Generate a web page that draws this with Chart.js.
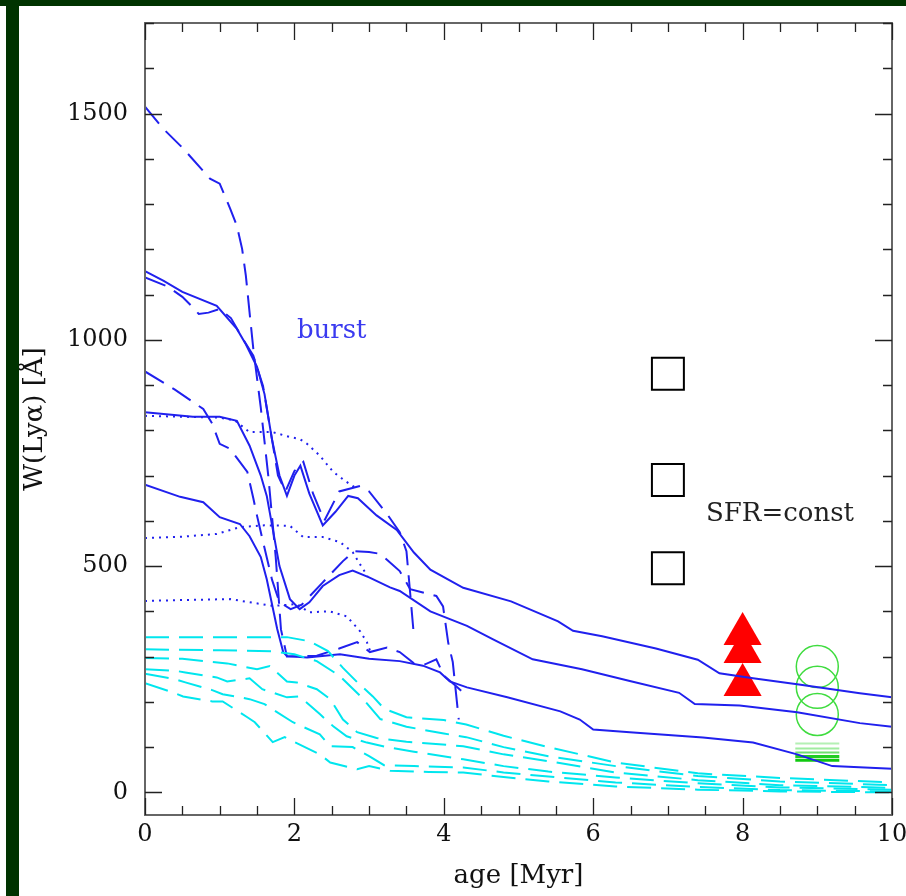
<!DOCTYPE html>
<html>
<head>
<meta charset="utf-8">
<script src="https://cdn.jsdelivr.net/npm/chart.js@4.4.1/dist/chart.umd.min.js"></script>
<style>
  html, body { margin: 0; padding: 0; background: #fff; }
  #wrap { position: relative; width: 906px; height: 896px; overflow: hidden; }
  .band { position: absolute; background: #003300; }
  #top { left: 0; top: 0; width: 906px; height: 6px; }
  #left { left: 6px; top: 0; width: 13px; height: 896px; }
  canvas { position: absolute; left: 0; top: 0; }
</style>
</head>
<body>
<div id="wrap">
  <canvas id="chart" width="906" height="896"></canvas>
  <div class="band" id="top"></div>
  <div class="band" id="left"></div>
</div>
<script>
// burst models, [age (Myr), W(Lya) (A)]
const solidA = [[0,1152],[0.25,1130],[0.5,1106],[0.96,1075],[1.23,1024],[1.35,990],[1.5,940],[1.6,880],[1.7,780],[1.8,700],[1.9,655],[2.0,700],[2.08,722],[2.2,660],[2.38,590],[2.55,620],[2.72,655],[2.85,650],[3.1,612],[3.37,580],[3.6,530],[3.82,492],[4.26,452],[4.9,422],[5.53,378],[5.73,357],[6.12,345],[6.84,318],[7.4,293],[7.69,263],[8.14,252],[8.73,239],[9.57,219],[10,210]];
const solidB = [[0,840],[0.64,830],[1.0,830],[1.23,821],[1.4,766],[1.55,700],[1.63,655],[1.8,500],[1.94,427],[2.07,405],[2.2,420],[2.38,456],[2.6,480],[2.78,490],[3.0,475],[3.28,453],[3.41,445],[3.82,400],[4.31,368],[4.66,338],[5.19,294],[5.85,272],[6.49,246],[7.15,220],[7.36,195],[7.96,192],[8.73,177],[9.57,153],[10,145]];
const solidC = [[0,680],[0.47,653],[0.78,641],[1.0,608],[1.27,593],[1.4,566],[1.55,520],[1.63,471],[1.77,361],[1.85,310],[1.9,301],[2.17,298],[2.61,305],[3.0,295],[3.41,290],[3.72,280],[3.95,265],[4.08,245],[4.31,232],[4.85,210],[5.56,179],[5.82,161],[6.0,139],[6.49,133],[7.47,121],[8.14,110],[8.73,84],[9.2,58],[10,52]];

const dashD1 = [[0,1515],[0.24,1467],[0.51,1423],[0.87,1356],[1.0,1345],[1.14,1290],[1.23,1252],[1.3,1201],[1.35,1142],[1.4,1060],[1.45,980],[1.55,850],[1.65,700],[1.75,520],[1.82,360],[1.9,300],[2.3,302],[2.6,318],[2.84,332],[3.01,310],[3.24,320],[3.41,310],[3.6,285],[3.75,283],[3.9,294],[4.0,258],[4.17,234],[4.25,222]];
const dashD2 = [[0,930],[0.4,890],[0.78,847],[0.9,815],[1.0,770],[1.14,759],[1.37,708],[1.45,650],[1.5,611],[1.6,540],[1.7,470],[1.8,420],[1.95,405],[2.1,415],[2.38,464],[2.65,511],[2.8,533],[3.0,531],[3.15,527],[3.41,489],[3.55,449],[3.9,434],[3.99,411],[4.06,330],[4.12,288],[4.2,161]];
const dashD3 = [[0,1138],[0.3,1118],[0.5,1095],[0.62,1075],[0.72,1057],[0.85,1060],[1.0,1068],[1.15,1048],[1.3,1005],[1.45,965],[1.58,898],[1.68,800],[1.78,700],[1.88,665],[2.0,710],[2.12,730],[2.25,660],[2.4,600],[2.6,665],[2.88,677],[3.0,665],[3.24,615],[3.41,575],[3.5,533],[3.55,440],[3.6,345]];

const dotP1 = [[0,832],[0.5,830],[1.0,828],[1.2,822],[1.4,796],[1.71,796],[1.94,785],[2.07,781],[2.17,770],[2.34,744],[2.52,708],[2.68,688],[2.8,675]];
const dotP2 = [[0,562],[0.5,565],[0.96,571],[1.27,586],[1.6,590],[1.94,589],[2.12,564],[2.38,564],[2.61,553],[2.78,531],[2.92,493],[2.98,478]];
const dotP3 = [[0,423],[0.5,425],[1.14,427],[1.71,412],[2.03,416],[2.2,398],[2.47,400],[2.7,389],[2.88,356],[2.97,332],[3.03,305]];

// higher metallicity bursts
const cyan1 = [[0,343],[1.0,343],[1.9,343],[2.2,334],[2.45,312],[2.65,275],[2.85,242],[3.05,212],[3.2,185],[3.5,166],[4.0,160],[4.3,150],[4.8,125],[5.4,100],[6.3,66],[7.4,42],[8.5,32],[10,22]];
const cyan2 = [[0,316],[1.0,314],[1.7,312],[2.0,305],[2.3,290],[2.6,258],[2.9,210],[3.15,162],[3.5,145],[4.0,130],[4.3,122],[4.8,100],[5.4,80],[6.3,58],[7.4,36],[8.5,24],[10,16]];
const cyan3 = [[0,297],[0.5,295],[1.1,285],[1.5,272],[1.67,279],[1.9,245],[2.03,243],[2.3,228],[2.48,206],[2.65,161],[2.84,133],[3.1,120],[3.5,112],[4.26,102],[4.8,84],[5.4,69],[6.3,44],[7.4,27],[8.5,16],[10,10]];
const cyan4 = [[0,272],[0.43,268],[0.54,265],[0.96,254],[1.1,245],[1.4,252],[1.57,228],[1.9,210],[2.07,212],[2.34,173],[2.52,146],[2.7,124],[2.97,110],[3.24,100],[3.6,90],[4.26,73],[4.8,58],[5.4,46],[6.3,33],[7.4,20],[8.5,11],[10,6]];
const cyan5 = [[0,262],[0.4,250],[0.54,243],[0.9,226],[1.04,217],[1.4,206],[1.6,195],[1.98,155],[2.34,128],[2.48,102],[2.78,100],[3.0,80],[3.2,60],[3.6,58],[4.26,55],[4.8,44],[5.4,35],[6.3,22],[7.4,12],[8.5,5],[10,2]];
const cyan6 = [[0,241],[0.37,221],[0.51,212],[0.9,201],[1.04,201],[1.37,166],[1.47,155],[1.71,111],[1.87,122],[2.34,84],[2.48,66],[2.84,51],[3.0,58],[3.28,48],[3.8,45],[4.26,44],[4.8,34],[5.4,24],[6.3,13],[7.4,6],[8.5,2],[10,0]];

// SFR=const symbols
const squareAge = 7, squareW = [925, 690, 495];
const triangleAge = 8, triangleW = [350, 310, 237];
const circleAge = 9, circleW = [278, 232, 172];
const barAge = 9, barW = [108, 97, 88, 79, 71];
const barColors = ['#b4f0b4', '#a0eca0', '#70e070', '#22cc22', '#10c810'];

const xTicks = [0, 2, 4, 6, 8, 10];
const yTicks = [0, 500, 1000, 1500];
const xMinorStep = 0.5, yMinorStep = 100;

const notes = [
  { text: 'burst', x: 2.5, y: 1018, color: '#3a3af0' },
  { text: 'SFR=const', x: 8.5, y: 615, color: '#222' }
];

const BLUE = '#2020ee';
const CYAN = '#00e6ee';
const FONT = '"DejaVu Serif", serif';

const pts = arr => arr.map(([x, y]) => ({ x, y }));
const curve = (arr, color, dash, width) => ({
  data: pts(arr), showLine: true, borderColor: color, borderWidth: width || 2,
  borderDash: dash, pointRadius: 0, fill: false, tension: 0, borderCapStyle: 'butt'
});
const marks = (age, vals, style, opts) => Object.assign({
  data: vals.map(v => ({ x: age, y: v })), showLine: false, pointStyle: style,
  pointHoverRadius: 0
}, opts);

const datasets = [
  ...[cyan1, cyan2, cyan3, cyan4, cyan5, cyan6].map(c => curve(c, CYAN, [24, 10], 2)),
  ...[dotP1, dotP2, dotP3].map(c => curve(c, BLUE, [2, 5], 2)),
  ...[dashD1, dashD2, dashD3].map(c => curve(c, BLUE, [22, 10], 2)),
  ...[solidA, solidB, solidC].map(c => curve(c, BLUE, [], 2)),
  marks(squareAge, squareW, 'rect', { pointRadius: 22.6, borderColor: '#000', borderWidth: 2, backgroundColor: 'rgba(0,0,0,0)' }),
  marks(triangleAge, triangleW, 'triangle', { pointRadius: 22, borderColor: '#ff0000', borderWidth: 0, backgroundColor: '#ff0000' }),
  marks(circleAge, circleW, 'circle', { pointRadius: 21, borderColor: '#3fdc3f', borderWidth: 1.5, backgroundColor: 'rgba(0,0,0,0)' }),
  marks(barAge, barW, 'line', { pointRadius: 22, borderColor: barColors, borderWidth: [2, 2, 2, 3, 3] })
];

// box with inward ticks on all four sides, plus the text notes
const frame = {
  id: 'frame',
  afterDatasetsDraw(chart) {
    const { ctx, chartArea: a, scales: { x, y } } = chart;
    ctx.save();
    ctx.strokeStyle = '#666';
    ctx.lineWidth = 2;
    ctx.strokeRect(a.left, a.top, a.right - a.left, a.bottom - a.top);
    ctx.strokeStyle = '#222';
    ctx.lineWidth = 1.3;
    ctx.beginPath();
    for (let v = x.min; v <= x.max + 1e-9; v += xMinorStep) {
      const px = Math.round(x.getPixelForValue(v)) + 0.5;
      const len = xTicks.includes(v) ? 17 : 9;
      ctx.moveTo(px, a.bottom); ctx.lineTo(px, a.bottom - len);
      ctx.moveTo(px, a.top); ctx.lineTo(px, a.top + len);
    }
    for (let v = 0; v <= y.max + 1e-9; v += yMinorStep) {
      const py = Math.round(y.getPixelForValue(v)) + 0.5;
      const len = yTicks.includes(v) ? 17 : 9;
      ctx.moveTo(a.left, py); ctx.lineTo(a.left + len, py);
      ctx.moveTo(a.right, py); ctx.lineTo(a.right - len, py);
    }
    ctx.stroke();
    ctx.font = '26px ' + FONT;
    ctx.textAlign = 'center';
    ctx.textBaseline = 'middle';
    notes.forEach(n => {
      ctx.fillStyle = n.color;
      ctx.fillText(n.text, x.getPixelForValue(n.x), y.getPixelForValue(n.y));
    });
    ctx.restore();
  }
};

new Chart(document.getElementById('chart'), {
  type: 'scatter',
  data: { datasets },
  options: {
    responsive: false,
    animation: false,
    devicePixelRatio: 1,
    layout: { autoPadding: false, padding: { top: 23, right: 14, left: 0, bottom: 0 } },
    plugins: { legend: { display: false }, tooltip: { enabled: false } },
    scales: {
      x: {
        type: 'linear', min: 0, max: 10,
        grid: { display: false, drawTicks: false }, border: { display: false },
        afterBuildTicks: s => { s.ticks = xTicks.map(v => ({ value: v })); },
        afterFit: s => { s.height = 81; s.paddingLeft = 0; s.paddingRight = 0; },
        ticks: { color: '#111', font: { family: FONT, size: 24 }, padding: 5, maxRotation: 0, callback: v => String(v) },
        title: { display: true, text: 'age [Myr]', color: '#111', font: { family: FONT, size: 26 }, padding: { top: 0, bottom: 4 } }
      },
      y: {
        type: 'linear', min: -50, max: 1700,
        grid: { display: false, drawTicks: false }, border: { display: false },
        afterBuildTicks: s => { s.ticks = yTicks.map(v => ({ value: v })); },
        afterFit: s => { s.width = 145; s.paddingTop = 0; s.paddingBottom = 0; },
        ticks: { color: '#111', font: { family: FONT, size: 24 }, padding: 17, callback: v => String(v) },
        title: { display: true, text: 'W(Lyα) [Å]', color: '#111', font: { family: FONT, size: 26 }, padding: { top: 20, bottom: 0 } }
      }
    }
  },
  plugins: [frame]
});
</script>
</body>
</html>
